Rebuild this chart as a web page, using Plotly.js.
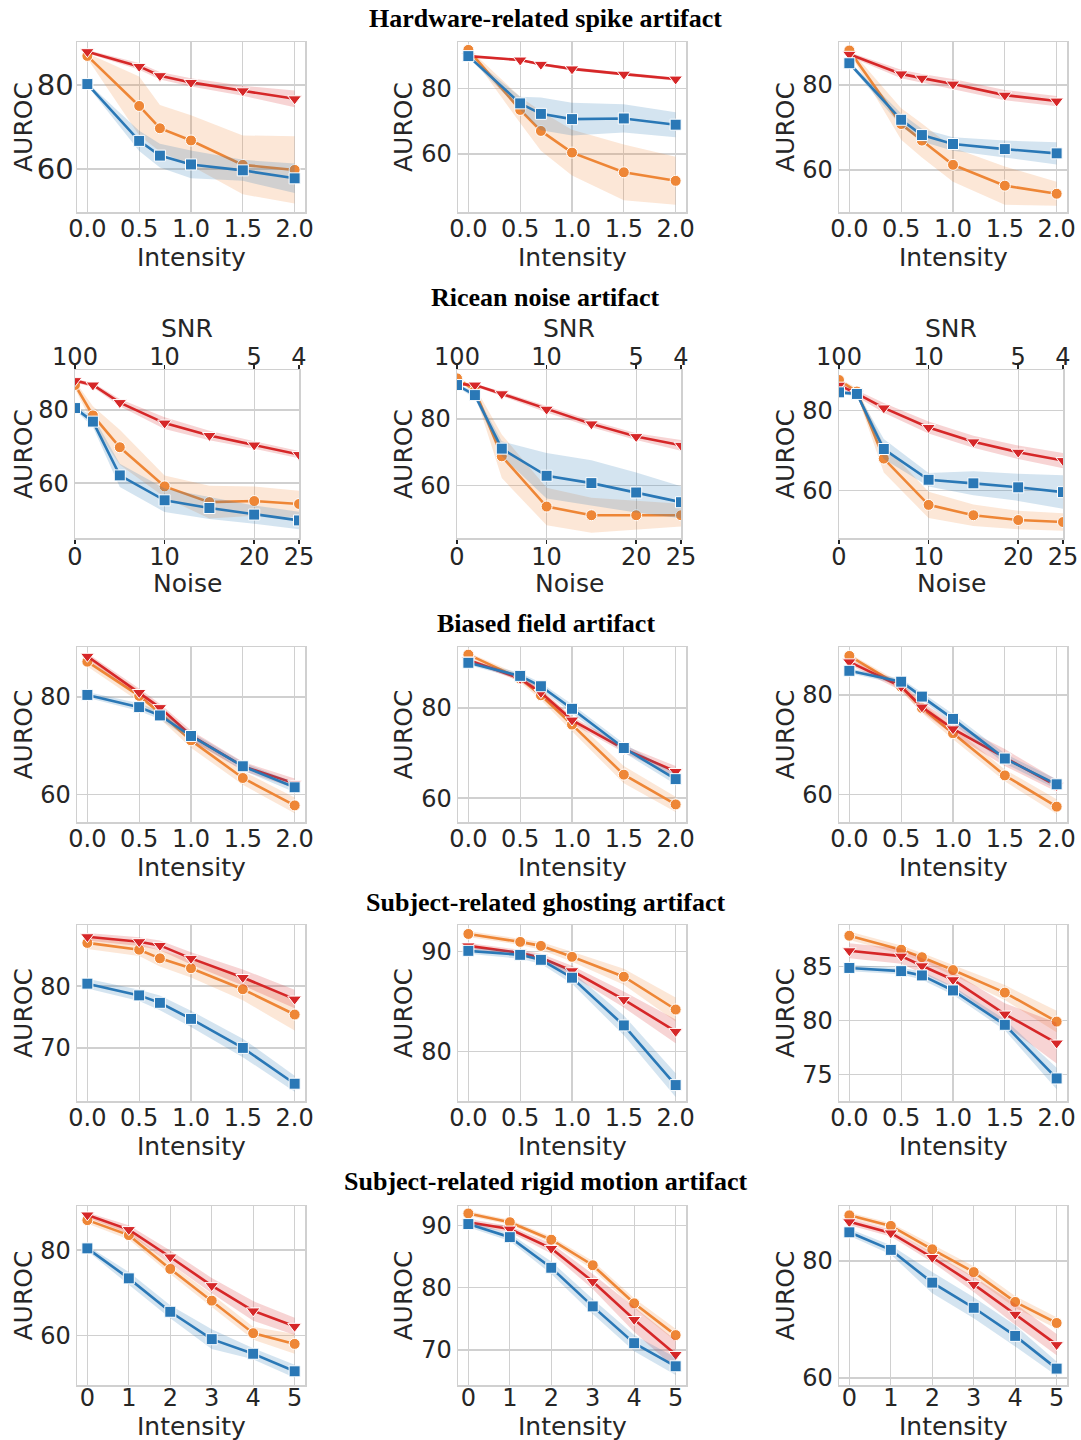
<!DOCTYPE html>
<html><head><meta charset="utf-8">
<script src="https://cdn.plot.ly/plotly-3.0.1.min.js"></script>
<style>html,body{margin:0;padding:0;background:#fff}#chart{width:1081px;height:1440px}</style>
</head><body><div id="chart"></div>
<script>
// ---------------- data ----------------
const xIntensity = [0, 0.5, 0.7, 1.0, 1.5, 2.0];
const xNoise = [0, 2, 5, 10, 15, 20, 25];
const xMotion = [0, 1, 2, 3, 4, 5];
const noiseTicks = [0, 10, 20, 25];
const snrTickText = ['100', '10', '5', '4'];
const rowTitles = ['Hardware-related spike artifact', 'Ricean noise artifact', 'Biased field artifact',
  'Subject-related ghosting artifact', 'Subject-related rigid motion artifact'];

// Hardware-related spike artifact
const spike1_blue = [80.2, 66.7, 63.2, 61.1, 59.7, 57.8];
const spike1_blue_ci = [0.4, 2.4, 2.8, 3.3, 2.5, 3.5];
const spike1_orange = [86.9, 75.0, 69.7, 66.8, 61.0, 59.8];
const spike1_orange_ci = [0.6, 7.0, 5.5, 6.0, 7.0, 8.0];
const spike1_red = [87.9, 84.4, 82.2, 80.6, 78.6, 76.7];
const spike1_red_ci = [0.4, 0.8, 0.9, 1.0, 1.2, 2.0];

const spike2_blue = [89.8, 75.4, 72.2, 70.6, 70.8, 68.9];
const spike2_blue_ci = [0.4, 2.0, 5.0, 5.0, 4.3, 3.8];
const spike2_orange = [91.7, 73.4, 67.0, 60.4, 54.4, 51.8];
const spike2_orange_ci = [0.5, 4.0, 6.0, 7.0, 8.5, 7.3];
const spike2_red = [89.8, 88.6, 87.3, 85.9, 84.3, 82.8];
const spike2_red_ci = [0.3, 0.4, 0.4, 0.5, 0.5, 0.5];

const spike3_blue = [85.1, 71.8, 68.2, 66.1, 64.9, 63.9];
const spike3_blue_ci = [0.4, 1.5, 1.5, 1.6, 2.0, 2.6];
const spike3_orange = [88.1, 70.8, 66.9, 61.2, 56.3, 54.4];
const spike3_orange_ci = [0.5, 3.7, 4.0, 4.0, 4.5, 2.8];
const spike3_red = [87.2, 82.6, 81.6, 80.2, 77.6, 76.2];
const spike3_red_ci = [0.5, 1.0, 1.0, 1.2, 1.2, 1.2];

// Ricean noise artifact
const ricean1_blue = [80.5, 76.8, 62.1, 55.3, 53.2, 51.4, 49.8];
const ricean1_blue_ci = [0.5, 1.5, 3.2, 3.2, 3.0, 2.5, 2.4];
const ricean1_orange = [86.8, 78.5, 69.8, 59.1, 54.8, 55.1, 54.3];
const ricean1_orange_ci = [1.0, 2.5, 4.8, 3.0, 4.5, 4.0, 3.6];
const ricean1_red = [88.0, 86.8, 82.0, 76.4, 73.0, 70.4, 67.8];
const ricean1_red_ci = [0.5, 0.6, 1.0, 1.6, 1.3, 1.0, 1.0];

const ricean2_blue = [90.1, 87.1, 71.1, 63.0, 60.8, 58.0, 55.1];
const ricean2_blue_ci = [0.5, 1.0, 2.2, 6.8, 6.8, 6.0, 4.8];
const ricean2_orange = [92.1, 88.5, 68.8, 53.8, 51.2, 51.2, 51.2];
const ricean2_orange_ci = [0.5, 1.0, 6.5, 5.6, 5.2, 4.3, 3.4];
const ricean2_red = [90.4, 90.1, 87.5, 82.9, 78.5, 74.7, 72.1];
const ricean2_red_ci = [0.4, 0.4, 0.7, 1.0, 1.0, 1.0, 1.6];

const ricean3_blue = [84.6, 84.2, 70.4, 62.7, 61.8, 60.8, 59.6];
const ricean3_blue_ci = [0.5, 0.5, 2.5, 1.7, 3.0, 3.4, 4.2];
const ricean3_orange = [87.7, 84.8, 68.0, 56.4, 53.8, 52.6, 52.1];
const ricean3_orange_ci = [0.5, 0.8, 3.5, 3.3, 2.7, 2.3, 2.2];
const ricean3_red = [86.4, 84.3, 80.7, 75.8, 72.2, 69.6, 67.5];
const ricean3_red_ci = [0.6, 0.8, 1.2, 1.5, 1.5, 1.7, 1.9];

// Biased field artifact
const bias1_blue = [80.4, 77.9, 76.2, 72.0, 65.8, 61.5];
const bias1_blue_ci = [0.6, 0.8, 0.8, 0.8, 0.8, 1.0];
const bias1_orange = [87.2, 80.2, 76.7, 71.1, 63.4, 57.8];
const bias1_orange_ci = [1.0, 1.2, 1.2, 1.5, 1.4, 1.6];
const bias1_red = [88.3, 80.9, 77.8, 72.1, 65.8, 62.3];
const bias1_red_ci = [0.6, 0.8, 0.8, 1.0, 0.9, 1.0];

const bias2_blue = [90.0, 87.1, 84.8, 79.8, 71.1, 64.2];
const bias2_blue_ci = [0.5, 0.7, 0.8, 1.0, 1.0, 1.2];
const bias2_orange = [91.8, 86.5, 82.8, 76.3, 65.2, 58.6];
const bias2_orange_ci = [0.5, 0.8, 1.0, 1.5, 1.9, 1.7];
const bias2_red = [90.6, 86.5, 83.4, 77.3, 70.9, 65.9];
const bias2_red_ci = [0.4, 0.6, 0.8, 0.8, 0.8, 1.2];

const bias3_blue = [84.9, 82.7, 79.7, 75.2, 67.2, 62.0];
const bias3_blue_ci = [0.5, 0.6, 0.8, 1.0, 1.0, 1.0];
const bias3_orange = [87.9, 81.7, 77.4, 72.3, 63.8, 57.5];
const bias3_orange_ci = [0.5, 0.8, 1.0, 1.2, 1.2, 1.5];
const bias3_red = [86.7, 81.7, 77.6, 73.2, 67.4, 61.7];
const bias3_red_ci = [0.6, 0.8, 1.0, 1.2, 1.7, 1.2];

// Subject-related ghosting artifact
const ghost1_blue = [80.4, 78.5, 77.3, 74.7, 70.0, 64.2];
const ghost1_blue_ci = [0.8, 0.9, 1.2, 1.3, 1.5, 1.3];
const ghost1_orange = [87.0, 85.9, 84.5, 82.9, 79.5, 75.4];
const ghost1_orange_ci = [1.0, 1.0, 1.3, 1.5, 1.8, 2.6];
const ghost1_red = [88.0, 87.2, 86.6, 84.5, 81.4, 77.9];
const ghost1_red_ci = [0.6, 0.7, 0.8, 1.0, 1.3, 1.5];

const ghost2_blue = [90.1, 89.7, 89.2, 87.4, 82.6, 76.6];
const ghost2_blue_ci = [0.3, 0.4, 0.4, 0.6, 1.0, 1.2];
const ghost2_orange = [91.8, 91.0, 90.6, 89.5, 87.5, 84.2];
const ghost2_orange_ci = [0.3, 0.3, 0.4, 0.5, 0.8, 1.2];
const ghost2_red = [90.6, 89.9, 89.4, 88.1, 85.2, 82.0];
const ghost2_red_ci = [0.3, 0.3, 0.4, 0.5, 0.8, 1.2];

const ghost3_blue = [84.9, 84.6, 84.2, 82.8, 79.6, 74.6];
const ghost3_blue_ci = [0.3, 0.3, 0.4, 0.4, 0.5, 1.0];
const ghost3_orange = [87.9, 86.6, 85.9, 84.7, 82.6, 79.9];
const ghost3_orange_ci = [0.4, 0.4, 0.4, 0.5, 0.7, 1.0];
const ghost3_red = [86.5, 86.0, 85.1, 83.8, 80.6, 77.9];
const ghost3_red_ci = [0.7, 0.7, 0.7, 0.7, 1.0, 1.9];

// Subject-related rigid motion artifact
const motion1_blue = [80.4, 73.4, 65.6, 59.2, 55.8, 51.7];
const motion1_blue_ci = [0.6, 1.5, 1.5, 2.3, 1.3, 1.5];
const motion1_orange = [87.0, 83.5, 75.6, 68.2, 60.6, 58.1];
const motion1_orange_ci = [0.8, 1.0, 1.2, 1.5, 1.5, 2.3];
const motion1_red = [88.2, 84.8, 78.4, 71.7, 65.8, 62.2];
const motion1_red_ci = [0.6, 1.0, 1.5, 1.8, 2.3, 2.0];

const motion2_blue = [90.2, 88.1, 83.2, 77.0, 71.1, 67.4];
const motion2_blue_ci = [0.5, 0.6, 1.0, 1.2, 1.3, 1.4];
const motion2_orange = [91.9, 90.5, 87.7, 83.6, 77.5, 72.4];
const motion2_orange_ci = [0.4, 0.4, 0.5, 0.7, 0.8, 1.0];
const motion2_red = [90.5, 89.4, 86.3, 81.0, 74.9, 69.3];
const motion2_red_ci = [0.5, 0.5, 0.8, 1.2, 2.0, 2.3];

const motion3_blue = [84.9, 81.9, 76.3, 72.0, 67.2, 61.6];
const motion3_blue_ci = [0.6, 0.8, 1.8, 1.8, 1.8, 1.2];
const motion3_orange = [87.8, 86.0, 82.0, 78.1, 73.0, 69.4];
const motion3_orange_ci = [0.5, 0.5, 0.8, 1.0, 1.0, 1.0];
const motion3_red = [86.7, 84.8, 80.6, 76.0, 70.9, 65.7];
const motion3_red_ci = [0.6, 0.6, 0.8, 1.3, 1.8, 1.8];

// ---------------- panel table built from the arrays ----------------
const panels = [
  {x: xIntensity, kind: 'int', s: [spike1_orange, spike1_orange_ci, spike1_red, spike1_red_ci, spike1_blue, spike1_blue_ci], yr: [49.8, 90.2], dt: 20},
  {x: xIntensity, kind: 'int', s: [spike2_orange, spike2_orange_ci, spike2_red, spike2_red_ci, spike2_blue, spike2_blue_ci], yr: [42.3, 94.1], dt: 20},
  {x: xIntensity, kind: 'int', s: [spike3_orange, spike3_orange_ci, spike3_red, spike3_red_ci, spike3_blue, spike3_blue_ci], yr: [50.1, 90.1], dt: 20},
  {x: xNoise, kind: 'noise', s: [ricean1_orange, ricean1_orange_ci, ricean1_red, ricean1_red_ci, ricean1_blue, ricean1_blue_ci], yr: [45.0, 90.9], dt: 20},
  {x: xNoise, kind: 'noise', s: [ricean2_orange, ricean2_orange_ci, ricean2_red, ricean2_red_ci, ricean2_blue, ricean2_blue_ci], yr: [44.4, 94.6], dt: 20},
  {x: xNoise, kind: 'noise', s: [ricean3_orange, ricean3_orange_ci, ricean3_red, ricean3_red_ci, ricean3_blue, ricean3_blue_ci], yr: [48.1, 90.2], dt: 20},
  {x: xIntensity, kind: 'int', s: [bias1_orange, bias1_orange_ci, bias1_red, bias1_red_ci, bias1_blue, bias1_blue_ci], yr: [54.4, 90.2], dt: 20},
  {x: xIntensity, kind: 'int', s: [bias2_orange, bias2_orange_ci, bias2_red, bias2_red_ci, bias2_blue, bias2_blue_ci], yr: [54.7, 93.5], dt: 20},
  {x: xIntensity, kind: 'int', s: [bias3_orange, bias3_orange_ci, bias3_red, bias3_red_ci, bias3_blue, bias3_blue_ci], yr: [54.4, 89.7], dt: 20},
  {x: xIntensity, kind: 'int', s: [ghost1_orange, ghost1_orange_ci, ghost1_red, ghost1_red_ci, ghost1_blue, ghost1_blue_ci], yr: [61.4, 89.9], dt: 10},
  {x: xIntensity, kind: 'int', s: [ghost2_orange, ghost2_orange_ci, ghost2_red, ghost2_red_ci, ghost2_blue, ghost2_blue_ci], yr: [75.0, 92.7], dt: 10},
  {x: xIntensity, kind: 'int', s: [ghost3_orange, ghost3_orange_ci, ghost3_red, ghost3_red_ci, ghost3_blue, ghost3_blue_ci], yr: [72.5, 88.9], dt: 5},
  {x: xMotion, kind: 'motion', s: [motion1_orange, motion1_orange_ci, motion1_red, motion1_red_ci, motion1_blue, motion1_blue_ci], yr: [48.5, 90.3], dt: 20},
  {x: xMotion, kind: 'motion', s: [motion2_orange, motion2_orange_ci, motion2_red, motion2_red_ci, motion2_blue, motion2_blue_ci], yr: [64.4, 93.1], dt: 10},
  {x: xMotion, kind: 'motion', s: [motion3_orange, motion3_orange_ci, motion3_red, motion3_red_ci, motion3_blue, motion3_blue_ci], yr: [58.8, 89.4], dt: 20}
];

// ---------------- styling ----------------
const W = 1081, H = 1440;
const series = [
  {color: '#ee8636', fill: 'rgba(238,134,54,0.2)', symbol: 'circle', size: 11},
  {color: '#d62728', fill: 'rgba(214,39,40,0.2)', symbol: 'triangle-down', size: 12},
  {color: '#2a78b6', fill: 'rgba(42,120,182,0.2)', symbol: 'square', size: 11}
];
const colsPx = [[77, 305], [458, 686], [839, 1067]];
const colsPxNoise = [[75, 299], [457, 681], [839, 1063]];
const rowsPx = [[42, 212], [370, 538], [647, 822], [925, 1101], [1206, 1385]];
const titleY = [19, 298, 623, 902, 1181];
const xTitleY = [257, 583, 867, 1146, 1426];
const yTitleX = [23, 403, 785];
const snrTitleY = 329;
const FONT = 'DejaVu Sans, sans-serif';
const TXT = '#262626';
const GRID = '#d0d0d0';

const traces = [];
const layout = {
  width: W, height: H, paper_bgcolor: '#fff', plot_bgcolor: '#fff',
  margin: {l: 0, r: 0, t: 0, b: 0}, showlegend: false,
  font: {family: FONT, color: TXT},
  annotations: []
};
function label(text, xpx, ypx, angle) {
  layout.annotations.push({
    xref: 'paper', yref: 'paper', x: xpx / W, y: 1 - ypx / H,
    xanchor: 'center', yanchor: 'middle', showarrow: false, textangle: angle || 0,
    text: text, font: {family: FONT, size: 25, color: TXT}
  });
}

panels.forEach((p, i) => {
  const r = Math.floor(i / 3), c = i % 3;
  const n = i + 1;
  const xa = 'x' + n, ya = 'y' + n;
  for (let k = 0; k < 3; k++) {
    const m = p.s[2 * k], ci = p.s[2 * k + 1];
    const hi = m.map((v, j) => v + ci[j]);
    const lo = m.map((v, j) => v - ci[j]);
    traces.push({
      type: 'scatter', mode: 'lines', xaxis: xa, yaxis: ya,
      x: p.x.concat(p.x.slice().reverse()), y: hi.concat(lo.slice().reverse()),
      fill: 'toself', fillcolor: series[k].fill, line: {width: 0}, hoverinfo: 'skip'
    });
    traces.push({
      type: 'scatter', mode: 'lines+markers', xaxis: xa, yaxis: ya,
      x: p.x, y: m,
      line: {color: series[k].color, width: 2.6},
      marker: {symbol: series[k].symbol, size: series[k].size, color: series[k].color,
               line: {color: '#ffffff', width: 1}}
    });
  }
  const cp = p.kind === 'noise' ? colsPxNoise[c] : colsPx[c];
  const rp = rowsPx[r];
  const xd = [cp[0] / W, cp[1] / W];
  const yd = [1 - rp[1] / H, 1 - rp[0] / H];
  const common = {
    showline: true, mirror: true, linecolor: GRID, linewidth: 1.5,
    showgrid: true, gridcolor: GRID, gridwidth: 1.3, zeroline: false, automargin: false
  };
  const xax = Object.assign({}, common, {
    domain: xd, anchor: ya,
    tickfont: {family: FONT, size: 24, color: TXT}
  });
  if (p.kind === 'int') {
    Object.assign(xax, {range: [-0.1, 2.1], tickmode: 'linear', tick0: 0, dtick: 0.5, tickformat: '.1f', ticks: '', ticklabelstandoff: -5});
  } else if (p.kind === 'motion') {
    Object.assign(xax, {range: [-0.25, 5.25], tickmode: 'linear', tick0: 0, dtick: 1, ticks: '', ticklabelstandoff: -9});
  } else {
    Object.assign(xax, {range: [0, 25], tickmode: 'array', tickvals: noiseTicks,
      ticks: 'outside', ticklen: 4, tickwidth: 1.5, tickcolor: TXT, ticklabelstandoff: -7});
  }
  layout['xaxis' + n] = xax;
  const big = (i === 0);
  layout['yaxis' + n] = Object.assign({}, common, {
    domain: yd, anchor: xa, range: p.yr, tickmode: 'linear', tick0: 0, dtick: p.dt, ticks: '',
    ticklabelstandoff: big ? -4 : 0,
    tickfont: {family: FONT, size: big ? 29 : 24, color: TXT}
  });
  // axis titles
  label(p.kind === 'noise' ? 'Noise' : 'Intensity', (cp[0] + cp[1]) / 2, xTitleY[r], 0);
  label('AUROC', yTitleX[c], (rp[0] + rp[1]) / 2, -90);
  if (p.kind === 'noise') {
    const tn = 16 + c;
    layout['xaxis' + tn] = {
      overlaying: xa, anchor: ya, side: 'top', range: [0, 25],
      tickmode: 'array', tickvals: noiseTicks, ticktext: snrTickText,
      ticks: 'outside', ticklen: 4, tickwidth: 1.5, tickcolor: TXT, ticklabelstandoff: -10,
      showgrid: false, zeroline: false, showline: false, automargin: false,
      tickfont: {family: FONT, size: 24, color: TXT}
    };
    traces.push({type: 'scatter', mode: 'markers', xaxis: 'x' + tn, yaxis: ya,
      x: noiseTicks, y: noiseTicks.map(() => null), hoverinfo: 'skip', showlegend: false});
    label('SNR', (cp[0] + cp[1]) / 2, snrTitleY, 0);
  }
});

rowTitles.forEach((t, r) => {
  layout.annotations.push({
    xref: 'paper', yref: 'paper', x: 546 / W, y: 1 - titleY[r] / H,
    xanchor: 'center', yanchor: 'middle', showarrow: false,
    text: '<b>' + t + '</b>',
    font: {family: 'Liberation Serif, Times New Roman, serif', size: 26, color: '#000'}
  });
});

Plotly.newPlot('chart', traces, layout, {displayModeBar: false, staticPlot: true});
</script>
</body></html>
